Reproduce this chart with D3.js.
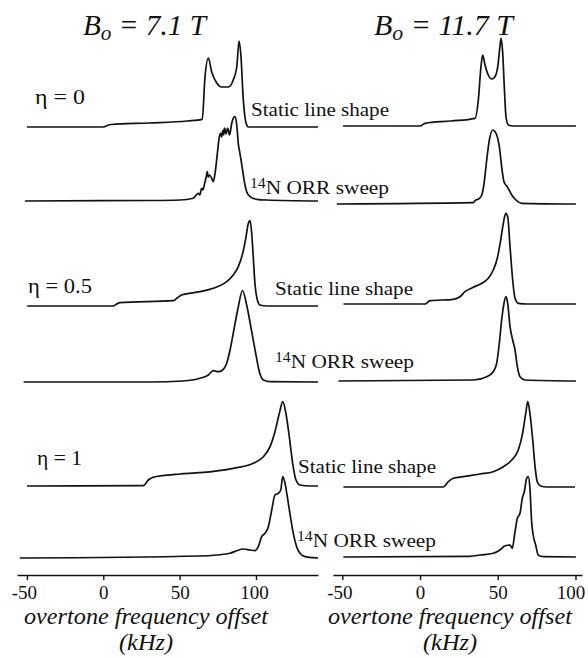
<!DOCTYPE html>
<html><head><meta charset="utf-8">
<script src="https://cdn.jsdelivr.net/npm/d3@7"></script>
<style>body{margin:0;background:#fff} svg{display:block}</style>
</head><body><svg id="c" width="588" height="658"></svg>
<script>
// ---------- DATA ----------
const fieldTitles = ["7.1 T", "11.7 T"];
const etaLabels = ["\u03B7 = 0", "\u03B7 = 0.5", "\u03B7 = 1"];
const staticLabel = "Static line shape";
const orrIsotope = "14";
const orrLabel = "N ORR sweep";
const xTicks = [-50, 0, 50, 100];
const xAxisTitle = "overtone frequency offset";
const xAxisUnit = "(kHz)";

// [offset kHz, relative intensity]
const L_eta0_static = [[-50,0],[0,0],[1.8,1],[5,2.5],[30,4],[55,6],[64.8,7.7],[66.6,50],[68.8,69],[71,55],[74.3,44],[77.5,40],[81.9,40],[85.1,47],[87.4,60],[88.9,86],[90,74],[91.7,27],[93.5,4],[95,0],[140.6,0]];
const L_eta0_orr = [[-51.3,0],[0,0.3],[30.6,0.5],[50.2,1],[58.9,2.7],[62.2,7.7],[63.2,6],[64.4,12.7],[65.2,11],[66.6,19.3],[67.4,24],[68.1,29.3],[68.7,24],[69.4,26],[71,22.7],[72,19.3],[73.2,27.7],[74.7,47.7],[76,64.3],[76.9,67.7],[77.5,64],[78.2,70.3],[78.8,66],[79.3,73],[79.7,71.7],[80.2,67],[80.8,69.3],[81.4,73],[81.9,71],[82.5,66],[83,67.7],[84.1,77.7],[85.1,82.7],[86.2,84.3],[87.4,76],[88.4,57.7],[89.2,50],[90.2,41],[91.7,26],[92.8,16],[93.9,9.3],[96.1,4.3],[100.5,1.7],[107,1],[140.6,0]];
const L_eta05_static = [[-49.8,0],[6.5,0],[8.8,2],[10.9,3.3],[45.8,5.3],[48.1,7.7],[51.3,11],[63.3,14.3],[72,17.7],[80.8,24.3],[85.1,31],[88.4,39.3],[91.3,52.7],[93.3,67.7],[95,82.7],[96.1,85.3],[97.2,72.7],[98.2,49.3],[99.3,22.7],[100.9,6],[102.6,1],[107,0],[140.6,0]];
const L_eta05_orr = [[-52.2,0],[30.6,0],[52.2,1],[63.3,3.7],[68.8,7],[72,11.3],[75.3,10.3],[78.2,12],[80.8,18.7],[83,32],[85.1,48.7],[88,72],[91.2,91.5],[93.9,77],[97.2,50.3],[100,27],[102.2,10.3],[104.8,2],[109.2,0.3],[140.6,0]];
const L_eta1_static = [[-50,0],[26.2,0.3],[29.5,6],[32.7,8.7],[37.1,10],[50.2,12],[63.3,13.3],[85.1,17.7],[98.2,22.7],[104.8,29.3],[109.2,39.3],[112.4,54.3],[115.3,72.7],[117.5,84.3],[119.6,72.7],[121.8,49.3],[124,22.7],[126.2,6],[128.8,1],[135.3,0],[140.6,0]];
const L_eta1_orr = [[-54.7,0],[63.3,2],[74.3,3],[83,4.7],[87.4,7.3],[91.7,9],[96.1,8],[99.3,7.3],[101.5,11.3],[103.7,21.3],[105.9,24.7],[108.1,31.3],[110.3,48],[112.4,63],[114.6,64.7],[116.2,68],[117.5,81.3],[119,74.7],[120.5,61.3],[122.2,44.7],[124.4,24.7],[126.6,11.3],[128.8,4.7],[132.1,1.3],[137.5,0.3],[140.6,0]];

const R_eta0_static = [[-49.5,0],[0,0],[3.2,2.7],[20,5],[35.4,7.7],[37.5,26],[39.2,59.3],[40.3,71],[41.8,61],[43.9,51],[46.1,47],[48.2,49.3],[50,59.3],[51.4,79.3],[52.1,87.7],[53.2,72.7],[54.2,39.3],[55.3,9.3],[56.8,1],[60,0],[100.3,0]];
const R_eta0_orr = [[-53.6,0],[34.3,1.3],[35.8,4],[37.5,4.7],[39.7,9],[41.2,20.7],[42.9,44],[44.6,64],[46.8,74],[48.9,70.7],[51,57.3],[52.5,37.3],[54,22.3],[56.1,17.3],[59,9],[61.7,4],[65.4,0.7],[100.3,0]];
const R_eta05_static = [[-49.3,0],[3.2,0],[6.4,3.3],[21.4,4.7],[25.7,7.3],[28.9,12.3],[34.3,16.7],[39.7,20.7],[43.9,25.7],[47.1,34],[49.7,45.7],[51.9,64],[53.6,80.7],[55.1,90.7],[56.4,87.3],[57.9,57.3],[59.6,24],[61.1,5.7],[63.2,0.7],[68.6,0],[100.3,0]];
const R_eta05_orr = [[-52.5,0],[34.3,1],[42.9,4.3],[47.1,9.3],[49.3,17.7],[51,37.7],[52.5,61],[54,77.7],[55.3,84.3],[56.4,77.7],[57.9,54.3],[59.6,41],[61.1,31],[62.6,14.3],[64.3,4.3],[67.5,1],[100.3,0]];
const R_eta1_static = [[-49.3,0],[15,0],[18.2,5.3],[21.4,8.7],[27.8,10.3],[38.6,13],[47.1,15.3],[53.6,20.3],[59,27],[63.2,37],[66,53.7],[68,73.7],[69.3,85.3],[70.7,73.7],[72.5,47],[74,20.3],[75.4,5.3],[77.6,1],[81.5,0],[99.7,0]];
const R_eta1_orr = [[-49.3,0],[32.2,0.7],[38.6,2],[47.1,3.7],[51.4,7],[54.7,11.3],[57.9,12],[59.3,8.7],[61.1,25.3],[62.6,38.7],[64.3,43.7],[65.8,58.7],[67.1,65.3],[68.6,78.7],[69.6,80.3],[70.7,68.7],[71.8,35.3],[72.8,22],[74.4,12],[76,2],[79.3,0.3],[100.3,0]];

// ---------- LAYOUT ----------
const svg = d3.select("#c");
const FONT = "'Liberation Serif', 'Times New Roman', serif";
const INK = "#111";
const panels = [
  { x: d3.scaleLinear().domain([-56.5, 140.6]).range([17, 318]), axisY: 575,
    traces: [L_eta0_static, L_eta0_orr, L_eta05_static, L_eta05_orr, L_eta1_static, L_eta1_orr],
    bases: [127, 201, 306, 382, 486, 558],
    title: { x: 83, w: 123 }, axTitleCx: 146, lastDx: -2 },
  { x: d3.scaleLinear().domain([-56, 104.2]).range([333, 582]), axisY: 575,
    traces: [R_eta0_static, R_eta0_orr, R_eta05_static, R_eta05_orr, R_eta1_static, R_eta1_orr],
    bases: [126, 204, 304, 381, 487, 557],
    title: { x: 374, w: 139 }, axTitleCx: 450, lastDx: -5 }
];

panels.forEach((p, pi) => {
  p.traces.forEach((data, ti) => {
    const y = d3.scaleLinear().domain([0, 100]).range([p.bases[ti], p.bases[ti] - 100]);
    const line = d3.line().x(d => p.x(d[0])).y(d => y(d[1])).curve(d3.curveMonotoneX);
    svg.append("path").datum(data).attr("d", line)
      .attr("fill", "none").attr("stroke", INK).attr("stroke-width", 1.7)
      .attr("stroke-linejoin", "round");
  });

  // axis
  const ax = svg.append("g").attr("transform", `translate(0,${p.axisY})`)
    .call(d3.axisBottom(p.x).tickValues(xTicks).tickFormat(d => String(d))
      .tickSize(5).tickSizeOuter(0).tickPadding(6));
  ax.attr("font-size", null).attr("font-family", null);
  ax.select(".domain").attr("stroke", INK).attr("stroke-width", 1.7);
  ax.selectAll(".tick line").attr("stroke", INK).attr("stroke-width", 1.4);
  ax.selectAll(".tick text").style("font-family", FONT).style("font-size", "19px")
    .attr("fill", INK).attr("dx", d => d < 0 ? -3 : (d === 100 ? p.lastDx : 0));

  // axis title
  svg.append("text").attr("x", p.axTitleCx).attr("y", 624).attr("text-anchor", "middle")
    .attr("font-family", FONT).attr("font-style", "italic").attr("font-size", 24)
    .attr("textLength", 244).attr("lengthAdjust", "spacingAndGlyphs")
    .attr("fill", INK).text(xAxisTitle);
  svg.append("text").attr("x", p.axTitleCx).attr("y", 650).attr("text-anchor", "middle")
    .attr("font-family", FONT).attr("font-style", "italic").attr("font-size", 23)
    .attr("textLength", 54).attr("lengthAdjust", "spacingAndGlyphs")
    .attr("fill", INK).text(xAxisUnit);

  // panel title
  const t = svg.append("text").attr("x", p.title.x).attr("y", 35)
    .attr("font-family", FONT).attr("font-style", "italic").attr("font-size", 29)
    .attr("fill", INK).attr("textLength", p.title.w).attr("lengthAdjust", "spacingAndGlyphs");
  t.append("tspan").text("B");
  t.append("tspan").attr("font-size", 21).attr("dy", 5).text("o");
  t.append("tspan").attr("dy", -5).text(" = " + fieldTitles[pi]);
});

// eta labels
const etaPos = [{x: 35, y: 104, w: 50}, {x: 28, y: 293, w: 64}, {x: 37, y: 465, w: 45}];
etaLabels.forEach((s, i) => {
  svg.append("text").attr("x", etaPos[i].x).attr("y", etaPos[i].y)
    .attr("font-family", FONT).attr("font-size", 20).attr("fill", INK)
    .attr("textLength", etaPos[i].w).attr("lengthAdjust", "spacingAndGlyphs")
    .text(s);
});

// trace labels
const staticPos = [{x: 251, y: 116}, {x: 275, y: 295}, {x: 298, y: 473}];
const orrPos = [{x: 250, y: 194}, {x: 275, y: 368}, {x: 297, y: 547}];
staticPos.forEach(p => {
  svg.append("text").attr("x", p.x).attr("y", p.y)
    .attr("font-family", FONT).attr("font-size", 19).attr("fill", INK)
    .attr("textLength", 138).attr("lengthAdjust", "spacingAndGlyphs")
    .text(staticLabel);
});
orrPos.forEach(p => {
  const t = svg.append("text").attr("x", p.x).attr("y", p.y)
    .attr("font-family", FONT).attr("font-size", 19).attr("fill", INK)
    .attr("textLength", 139).attr("lengthAdjust", "spacingAndGlyphs");
  t.append("tspan").attr("font-size", 14).attr("dy", -6).text(orrIsotope);
  t.append("tspan").attr("dy", 6).text(orrLabel);
});
</script></body></html>
